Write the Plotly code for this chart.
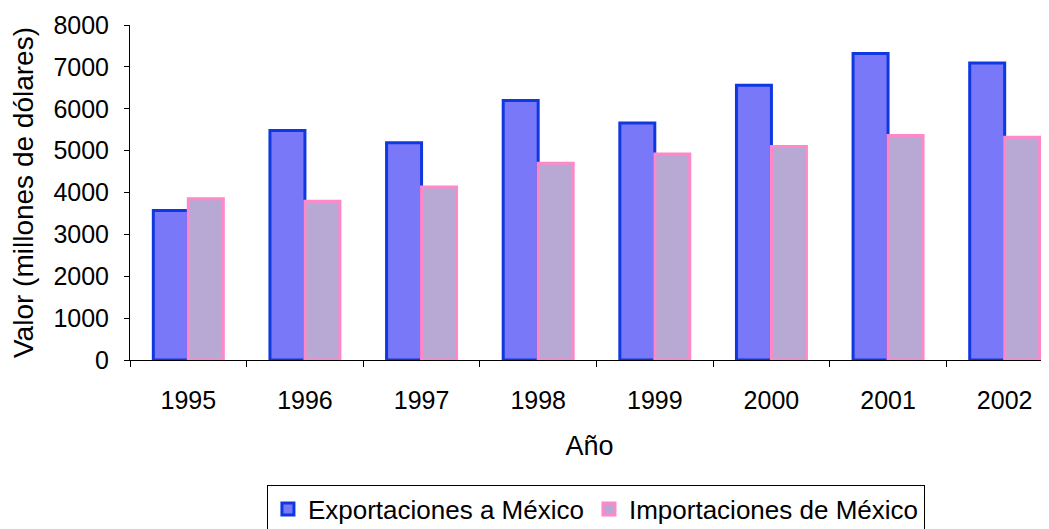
import plotly.graph_objects as go

years = ["1995", "1996", "1997", "1998", "1999", "2000", "2001", "2002"]
exportaciones = [3570, 5480, 5190, 6200, 5660, 6560, 7320, 7090]
importaciones = [3850, 3790, 4130, 4700, 4920, 5100, 5360, 5320]

FONT = "Liberation Sans, Arial, sans-serif"
FS = 25

fig = go.Figure()
fig.add_trace(go.Bar(
    x=years, y=exportaciones, name="Exportaciones a México",
    marker=dict(color="#7878f8", line=dict(color="#1038e0", width=3)),
))
fig.add_trace(go.Bar(
    x=years, y=importaciones, name="Importaciones de México",
    marker=dict(color="#b8a8d4", line=dict(color="#ff88c8", width=3)),
))

fig.update_layout(
    width=1041, height=521,
    margin=dict(l=122, r=0, t=17, b=169, autoexpand=False),
    paper_bgcolor="white", plot_bgcolor="white",
    font=dict(family=FONT, size=FS, color="black"),
    barmode="group", bargap=0.4, bargroupgap=0,
    showlegend=True,
    legend=dict(
        orientation="h", x=0.507, xanchor="center", y=-0.372, yanchor="top",
        bordercolor="black", borderwidth=1, font=dict(size=26),
        itemwidth=30, tracegroupgap=0,
    ),
    xaxis=dict(
        range=[-0.5, 7.38], showline=True, linecolor="black", linewidth=1,
        ticks="outside", tickson="boundaries", ticklen=6, tickcolor="black",
        ticklabelstandoff=18, tickfont=dict(size=FS), automargin=False,
        title=dict(text="Año", standoff=23, font=dict(size=27)), showgrid=False,
    ),
    yaxis=dict(
        range=[0, 8000], dtick=1000, showline=True, linecolor="black", linewidth=1,
        ticks="outside", ticklen=5, tickcolor="black", showgrid=False,
        ticklabelstandoff=10, tickfont=dict(size=FS), automargin=False,
        title=dict(text="Valor (millones de dólares)", standoff=12, font=dict(size=28)),
        zeroline=False,
    ),
)

fig.write_html("out.html")
